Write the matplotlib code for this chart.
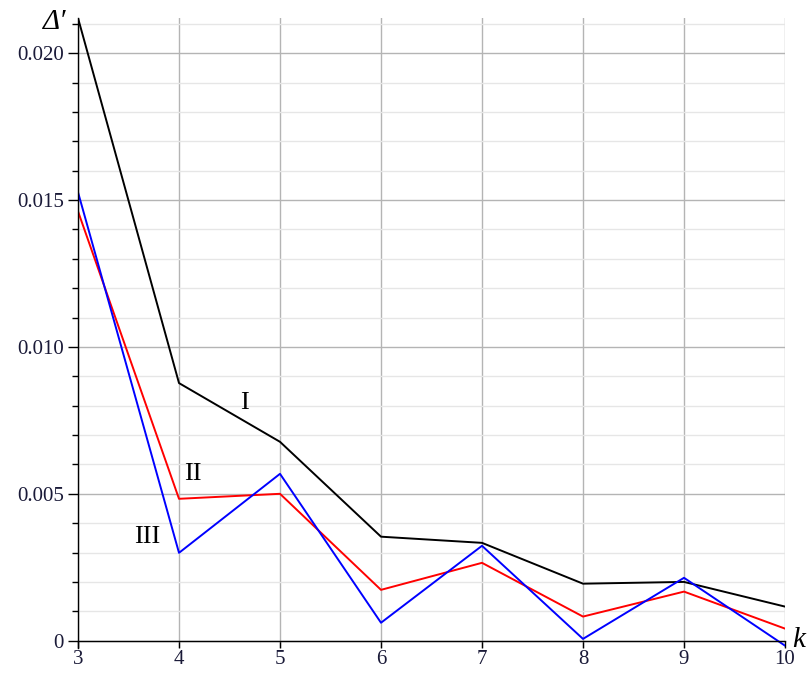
import matplotlib
matplotlib.use("Agg")
import matplotlib.pyplot as plt
from matplotlib.ticker import MultipleLocator, FixedLocator

plt.rcParams['font.family'] = ['Liberation Serif', 'DejaVu Serif']

k = [3, 4, 5, 6, 7, 8, 9, 10]
curve_I = [0.0212, 0.00877, 0.00677, 0.00354, 0.00333, 0.00194, 0.00200, 0.00116]
curve_II = [0.01462, 0.00483, 0.00500, 0.00173, 0.00265, 0.00082, 0.00167, 0.00041]
curve_III = [0.01527, 0.00299, 0.00568, 0.00061, 0.00323, 0.00006, 0.00214, -0.00017]

ytick_vals = [0, 0.005, 0.010, 0.015, 0.020]
ytick_labels = ["0", "0.005", "0.010", "0.015", "0.020"]

fig = plt.figure(figsize=(8.09, 6.75), dpi=100)
ax = fig.add_axes([78 / 809, 1 - 648 / 675, 707 / 809, 630 / 675])

# grid
ax.set_xlim(3, 10)
ax.set_ylim(-0.00025, 0.0212)
ax.yaxis.set_major_locator(FixedLocator(ytick_vals))
ax.yaxis.set_minor_locator(MultipleLocator(0.001))
ax.xaxis.set_major_locator(MultipleLocator(1))
ax.grid(True, which='major', color='#b4b4b4', lw=1.0)
ax.grid(True, which='minor', axis='y', color='#e6e6e6', lw=1.0)
ax.set_axisbelow(True)

ax.plot(k, curve_I, color='black', lw=1.4)
ax.plot(k, curve_II, color='#ff0000', lw=1.4)
ax.plot(k, curve_III, color='#0000ff', lw=1.4)

# axes through origin, Maple style
ax.spines['top'].set_visible(False)
ax.spines['right'].set_visible(False)
ax.spines['bottom'].set_position(('data', 0))
ax.spines['bottom'].set_linewidth(1.0)
ax.spines['left'].set_linewidth(1.0)

ax.set_yticks(ytick_vals)
ax.set_yticklabels(ytick_labels)
ax.tick_params(axis='y', which='major', length=7, width=1, direction='out',
               labelsize=15, labelcolor='#1a1a38', pad=3)
ax.tick_params(axis='y', which='minor', length=4, width=1, direction='out')
ax.tick_params(axis='x', which='major', length=5, width=1, direction='out',
               labelsize=15, labelcolor='#1a1a38', pad=2)

ax.text(4.65, 0.0081, "I", fontsize=19, ha='center', va='center')
ax.text(4.14, 0.00568, "II", fontsize=19, ha='center', va='center')
ax.text(3.69, 0.00354, "III", fontsize=19, ha='center', va='center')

fig.text(55 / 809, 1 - 22 / 675, "\u0394\u2032", fontsize=21, style='italic',
         ha='center', va='center')
fig.text(799 / 809, 1 - 640 / 675, "k", fontsize=21, style='italic',
         ha='center', va='center')

fig.savefig("out.png", dpi=100)
